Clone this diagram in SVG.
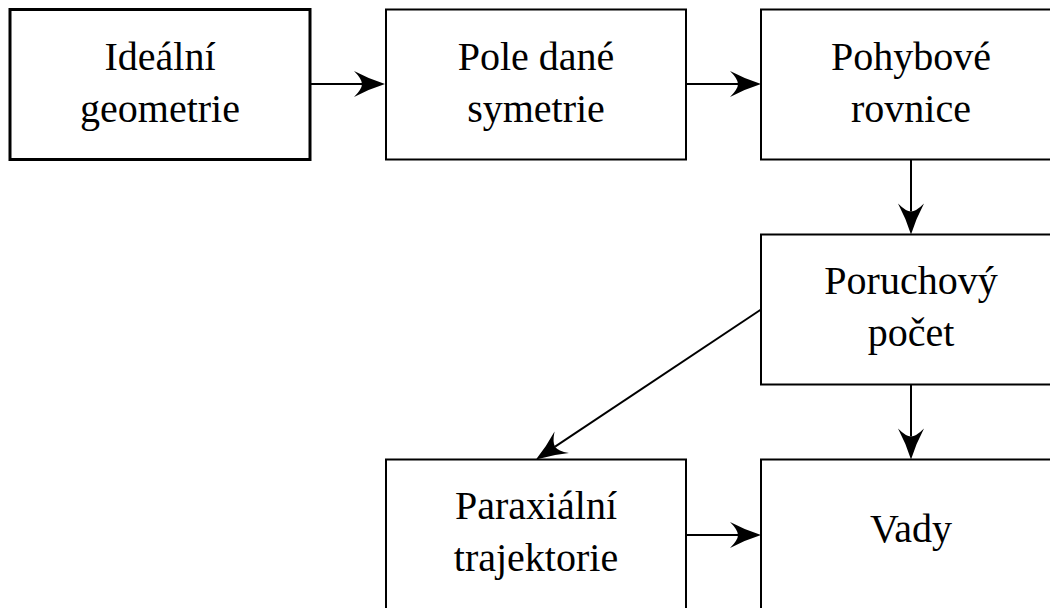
<svg xmlns="http://www.w3.org/2000/svg" width="1050" height="608" viewBox="0 0 1050 608">
<style>
.box{fill:#fff;stroke:#000;stroke-width:2}
.thick{stroke-width:3}
.lbl{font-family:"Liberation Serif","DejaVu Serif",serif;font-size:40px;text-anchor:middle;fill:#000}
.edge{stroke:#000;stroke-width:2;fill:none;marker-end:url(#ah)}
</style>
<defs>
<marker id="ah" markerUnits="userSpaceOnUse" viewBox="-2 -15 36 30" markerWidth="36" markerHeight="30" refX="8" refY="0" orient="auto">
<path d="M31,0 Q15,-5 0,-13 Q8,-5 8,0 Q8,5 0,13 Q15,5 31,0 Z" fill="#000"/>
</marker>
</defs>
<rect width="1050" height="608" fill="#fff"/>
<g id="n1"><rect class="box thick" x="10" y="9.5" width="300" height="150"/>
<text class="lbl" x="160" y="70">Ideální</text><text class="lbl" x="160" y="122">geometrie</text></g>
<g id="n2"><rect class="box" x="386" y="9.5" width="300" height="150"/>
<text class="lbl" x="536" y="70">Pole dané</text><text class="lbl" x="536" y="122">symetrie</text></g>
<g id="n3"><rect class="box" x="761" y="9.5" width="300" height="150"/>
<text class="lbl" x="911" y="70">Pohybové</text><text class="lbl" x="911" y="122">rovnice</text></g>
<g id="n4"><rect class="box" x="761" y="234.5" width="300" height="150"/>
<text class="lbl" x="911" y="294">Poruchový</text><text class="lbl" x="911" y="346">počet</text></g>
<g id="n5"><rect class="box" x="386" y="459.5" width="300" height="150"/>
<text class="lbl" x="536" y="519">Paraxiální</text><text class="lbl" x="536" y="571">trajektorie</text></g>
<g id="n6"><rect class="box" x="761" y="459.5" width="300" height="150"/>
<text class="lbl" x="911" y="542">Vady</text></g>
<g id="edges">
<line class="edge" x1="311" y1="84" x2="362" y2="84"/>
<line class="edge" x1="686" y1="84" x2="738" y2="84"/>
<line class="edge" x1="911" y1="159.5" x2="911" y2="211.5"/>
<line class="edge" x1="911" y1="384.5" x2="911" y2="436.5"/>
<line class="edge" x1="686" y1="535" x2="738" y2="535"/>
<line class="edge" x1="761" y1="309.5" x2="555.1" y2="446.7"/>
</g>
</svg>
